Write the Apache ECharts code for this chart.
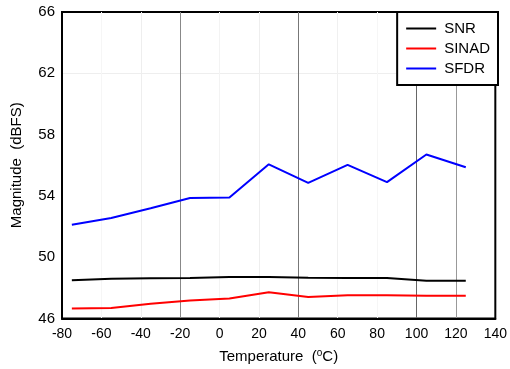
<!DOCTYPE html>
<html>
<head>
<meta charset="utf-8">
<script src="https://cdn.jsdelivr.net/npm/echarts@6/dist/echarts.min.js"></script>
<style>
html,body{margin:0;padding:0;background:#fff;}
#c{width:510px;height:369px;}
</style>
</head>
<body>
<div id="c"></div>
<script>
// Data
const temperatures = [-75, -55, -35, -15, 5, 25, 45, 65, 85, 105, 125];
const snr   = [48.49, 48.60, 48.62, 48.64, 48.70, 48.70, 48.66, 48.65, 48.64, 48.47, 48.47];
const sinad = [46.65, 46.69, 46.97, 47.17, 47.30, 47.71, 47.41, 47.51, 47.51, 47.49, 47.49];
const sfdr  = [52.12, 52.56, 53.19, 53.86, 53.90, 56.06, 54.85, 56.02, 54.90, 56.70, 55.87];
const xTicks = { min: -80, max: 140, interval: 20 };
const yTicks = { min: 46, max: 66, interval: 4 };
const seriesNames = ['SNR', 'SINAD', 'SFDR'];

const font = 'Liberation Sans, Arial, sans-serif';
const chart = echarts.init(document.getElementById('c'), null, { renderer: 'canvas' });
function mk(name, vals, color) {
  return {
    name: name, type: 'line', symbol: 'none', smooth: false,
    data: temperatures.map((t, i) => [t, vals[i]]),
    lineStyle: { color: color, width: 2 }, itemStyle: { color: color }
  };
}
chart.setOption({
  animation: false,
  grid: { left: 62, right: 13, top: 12, bottom: 49, show: true, borderColor: '#000', borderWidth: 2, backgroundColor: 'transparent' },
  legend: {
    orient: 'vertical', right: 12, top: 12,
    data: seriesNames,
    icon: 'rect', itemWidth: 30, itemHeight: 2, itemGap: 5,
    backgroundColor: '#fff', borderColor: '#000', borderWidth: 2,
    padding: [9, 8, 9, 9],
    textStyle: { fontFamily: font, fontSize: 15, color: '#000', padding: [0, 0, 0, 3] }
  },
  xAxis: {
    type: 'value', min: xTicks.min, max: xTicks.max, interval: xTicks.interval,
    name: 'Temperature  ({sup|o}C)', nameLocation: 'middle', nameGap: 30,
    nameTextStyle: { fontFamily: font, fontSize: 15, color: '#000',
      rich: { sup: { fontFamily: font, fontSize: 10, color: '#000', verticalAlign: 'top', padding: [0, 0, 6, 0] } } },
    axisLine: { show: true, onZero: false, lineStyle: { color: '#000', width: 2 } },
    axisTick: { show: false },
    axisLabel: { fontFamily: font, fontSize: 14, color: '#000', margin: 9 },
    splitLine: { show: true, lineStyle: { width: 1,
      color: ['rgba(0,0,0,0)', '#f6f6f6', '#eeeeee', '#888888', '#f3f3f3', '#eeeeee', '#777777', '#f0f0f0', '#f6f6f6', '#666666', '#999999', 'rgba(0,0,0,0)'] } }
  },
  yAxis: {
    type: 'value', min: yTicks.min, max: yTicks.max, interval: yTicks.interval,
    name: 'Magnitude  (dBFS)', nameLocation: 'middle', nameGap: 38,
    nameTextStyle: { fontFamily: font, fontSize: 15, color: '#000' },
    axisLine: { show: true, onZero: false, lineStyle: { color: '#000', width: 2 } },
    axisTick: { show: false },
    axisLabel: { fontFamily: font, fontSize: 15, color: '#000', margin: 7 },
    splitLine: { show: true, lineStyle: { width: 1,
      color: ['rgba(0,0,0,0)', 'rgba(0,0,0,0)', 'rgba(0,0,0,0)', 'rgba(0,0,0,0)', '#eeeeee', 'rgba(0,0,0,0)'] } }
  },
  series: [mk('SNR', snr, '#000000'), mk('SINAD', sinad, '#ff0000'), mk('SFDR', sfdr, '#0000ff')]
});
</script>
</body>
</html>
